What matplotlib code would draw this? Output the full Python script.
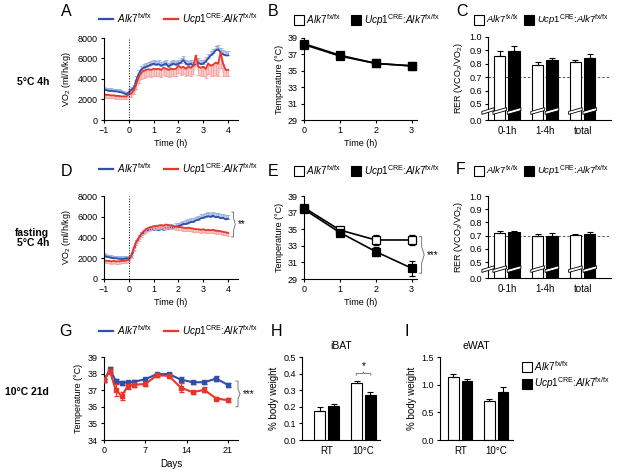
import numpy as np
import matplotlib
matplotlib.use('Agg')
import matplotlib.pyplot as plt
from matplotlib.lines import Line2D
from matplotlib.patches import Polygon
from matplotlib.transforms import blended_transform_factory

plt.rcParams['font.family'] = ['Liberation Sans', 'DejaVu Sans']
plt.rcParams['mathtext.fontset'] = 'custom'
plt.rcParams['mathtext.rm'] = 'Liberation Sans'
plt.rcParams['mathtext.it'] = 'Liberation Sans:italic'
plt.rcParams['mathtext.bf'] = 'Liberation Sans:bold'
plt.rcParams['font.size'] = 6.5
plt.rcParams['axes.linewidth'] = 0.8
for a in ('xtick', 'ytick'):
    plt.rcParams[a + '.major.size'] = 2.5
    plt.rcParams[a + '.major.width'] = 0.8
    plt.rcParams[a + '.major.pad'] = 2
    plt.rcParams[a + '.labelsize'] = 6.5

# ---------- данные ----------
# время (ч) для VO2, шаг 0.1 ч
t_vo2 = np.linspace(-1, 4, 51)

# A: 5°C 4h
vo2_a_wt = np.array([2950, 2900, 2850, 2850, 2800, 2800, 2750, 2700, 2600, 2500,
                     2700, 2950, 3100, 3900, 4500, 4900, 5100, 5200, 5300, 5400,
                     5500, 5400, 5450, 5300, 5400, 5500, 5200, 5400, 5500, 5400,
                     5500, 5600, 5850, 5500, 5400, 5500, 5300, 5400, 5600, 5450,
                     5500, 5700, 6000, 6300, 6500, 6800, 6900, 6600, 6400, 6300,
                     6300])
vo2_a_wt_err = np.array([250, 250, 250, 250, 250, 250, 250, 250, 250, 250,
                         300, 300, 300, 350, 400, 400, 400, 400, 400, 400,
                         400, 400, 400, 400, 400, 400, 400, 400, 400, 400,
                         400, 400, 400, 400, 400, 400, 400, 400, 400, 400,
                         400, 400, 400, 400, 400, 400, 400, 400, 400, 400,
                         400])
vo2_a_ko = np.array([2500, 2450, 2450, 2400, 2400, 2350, 2350, 2300, 2300, 2300,
                     2500, 2600, 2900, 3500, 4200, 4600, 4800, 4900, 4950, 4900,
                     5000, 4950, 5000, 4900, 5100, 5000, 4900, 5000, 4950, 5000,
                     5300, 5100, 5200, 5000, 5200, 5100, 5300, 6300, 5200, 5100,
                     5200, 5000, 5500, 5300, 5400, 5600, 5500, 6600, 5500, 4900,
                     4900])
vo2_a_ko_err = np.array([300, 300, 300, 300, 300, 300, 300, 300, 300, 300,
                         300, 350, 400, 500, 600, 600, 700, 700, 700, 700,
                         700, 700, 700, 700, 700, 700, 700, 700, 700, 700,
                         700, 700, 700, 700, 800, 800, 800, 900, 800, 800,
                         900, 900, 1000, 1000, 1100, 1200, 1200, 1500, 1200, 600,
                         600])

# D: голодание, 5°C 4h
vo2_d_wt = np.array([2250, 2150, 2100, 2050, 2000, 2000, 1950, 1950, 1950, 2000,
                     2000, 2100, 2800, 3500, 3900, 4200, 4450, 4650, 4750, 4800,
                     4750, 4800, 4700, 4850, 4750, 4900, 4850, 5000, 4950, 5050,
                     5100, 5200, 5300, 5300, 5400, 5500, 5500, 5650, 5700, 5850,
                     5900, 6000, 6050, 6000, 6100, 5950, 6000, 5850, 5900, 5750,
                     5800])
vo2_d_wt_err = np.array([250, 250, 250, 250, 250, 250, 250, 250, 250, 250,
                         250, 250, 300, 300, 300, 300, 300, 300, 300, 300,
                         300, 300, 300, 300, 300, 300, 300, 300, 300, 300,
                         300, 300, 300, 350, 350, 350, 350, 350, 400, 400,
                         400, 400, 400, 400, 400, 400, 400, 400, 400, 400,
                         400])
vo2_d_ko = np.array([1800, 1750, 1750, 1700, 1750, 1700, 1700, 1750, 1750, 1800,
                     1850, 2300, 3000, 3600, 4000, 4350, 4600, 4800, 4950, 5000,
                     5100, 5100, 5150, 5200, 5150, 5250, 5200, 5150, 5100, 5050,
                     5000, 5000, 4950, 4900, 4950, 4900, 4850, 4800, 4800, 4750,
                     4800, 4700, 4750, 4700, 4750, 4650, 4650, 4600, 4550, 4500,
                     4450])
vo2_d_ko_err = np.array([250, 250, 250, 250, 250, 250, 250, 250, 250, 250,
                         250, 250, 300, 300, 300, 300, 300, 300, 300, 300,
                         300, 300, 300, 300, 300, 300, 300, 300, 300, 300,
                         300, 300, 300, 300, 300, 300, 300, 300, 300, 300,
                         300, 300, 300, 300, 300, 300, 300, 300, 300, 300,
                         300])

# B, E: температура тела
hours = [0, 1, 2, 3]
temp_b_wt = [38.2, 36.8, 35.9, 35.6]
temp_b_wt_err = [0.2, 0.2, 0.15, 0.15]
temp_b_ko = [38.3, 36.9, 35.9, 35.6]
temp_b_ko_err = [0.2, 0.2, 0.15, 0.15]
temp_e_wt = [37.6, 34.9, 33.7, 33.7]
temp_e_wt_err = [0.3, 0.3, 0.6, 0.6]
temp_e_ko = [37.4, 34.6, 32.3, 30.3]
temp_e_ko_err = [0.3, 0.3, 0.5, 0.9]

# C, F: RER
rer_groups = ['0-1h', '1-4h', 'total']
rer_c_wt = [0.855, 0.79, 0.81]
rer_c_wt_err = [0.04, 0.02, 0.02]
rer_c_ko = [0.895, 0.825, 0.845]
rer_c_ko_err = [0.035, 0.02, 0.025]
rer_f_wt = [0.72, 0.70, 0.705]
rer_f_wt_err = [0.015, 0.015, 0.01]
rer_f_ko = [0.725, 0.70, 0.715]
rer_f_ko_err = [0.012, 0.02, 0.01]

# G: 10°C 21 день
days = [0, 1, 2, 3, 4, 5, 7, 9, 11, 13, 15, 17, 19, 21]
temp_g_wt = [37.6, 38.25, 37.56, 37.44, 37.48, 37.5, 37.66, 37.98, 37.97, 37.64, 37.48, 37.48, 37.7, 37.32]
temp_g_wt_err = [0.1, 0.15, 0.1, 0.1, 0.1, 0.1, 0.08, 0.08, 0.08, 0.15, 0.08, 0.1, 0.15, 0.12]
temp_g_ko = [37.6, 38.15, 37.0, 36.65, 37.24, 37.32, 37.38, 37.9, 37.86, 37.16, 36.88, 37.02, 36.5, 36.4]
temp_g_ko_err = [0.1, 0.15, 0.35, 0.25, 0.15, 0.12, 0.1, 0.08, 0.08, 0.25, 0.1, 0.15, 0.12, 0.12]

# H, I: масса жира
fat_groups = ['RT', '10°C']
ibat_wt = [0.175, 0.345]
ibat_wt_err = [0.022, 0.01]
ibat_ko = [0.205, 0.272]
ibat_ko_err = [0.01, 0.016]
ewat_wt = [1.14, 0.71]
ewat_wt_err = [0.06, 0.04]
ewat_ko = [1.06, 0.87]
ewat_ko_err = [0.05, 0.08]

# ---------- оформление ----------
W, H = 617, 473
BLUE = '#2F4FA8'
RED = '#E8362C'
LBLUE = '#9AAEE0'
LRED = '#F4A7A4'
LAB_WT = r'$\mathit{Alk7}^{\mathrm{fx/fx}}$'
LAB_KO = r'$\mathit{Ucp1}^{\mathrm{CRE}}$:$\mathit{Alk7}^{\mathrm{fx/fx}}$'

fig = plt.figure(figsize=(W / 100, H / 100), dpi=100)


def add_ax(l, t, r, b):
    ax = fig.add_axes([l / W, 1 - b / H, (r - l) / W, (b - t) / H])
    ax.spines[['top', 'right']].set_visible(False)
    return ax


def line_legend(ax, x, y):
    h = [Line2D([], [], color=BLUE, lw=1.6), Line2D([], [], color=RED, lw=1.6)]
    ax.legend(h, [LAB_WT, LAB_KO], loc='center left', bbox_to_anchor=(x / W, 1 - y / H),
              bbox_transform=fig.transFigure, ncol=2, frameon=False, fontsize=7.2,
              handlelength=1.4, handletextpad=0.4, columnspacing=1.2,
              borderpad=0, borderaxespad=0)


def square_legend(ax, x, y, ncol=2, spacing=1.2, fontsize=7.2):
    h = [Line2D([], [], ls='none', marker='s', ms=6.5, mfc='white', mec='k', mew=0.8),
         Line2D([], [], ls='none', marker='s', ms=6.5, mfc='k', mec='k', mew=0.8)]
    ax.legend(h, [LAB_WT, LAB_KO], loc='center left', bbox_to_anchor=(x / W, 1 - y / H),
              bbox_transform=fig.transFigure, ncol=ncol, frameon=False, fontsize=fontsize,
              handlelength=0.7, handletextpad=0.4, columnspacing=spacing,
              borderpad=0, borderaxespad=0, labelspacing=0.3)


def vo2_panel(ax, wt, wt_err, ko, ko_err):
    zeros = np.zeros_like(wt)
    ax.fill_between(t_vo2, wt, wt + wt_err, color=LBLUE, lw=0, alpha=0.6)
    ax.errorbar(t_vo2, wt, yerr=[zeros, wt_err], fmt='none', ecolor=LBLUE,
                elinewidth=0.6, capsize=1.3, capthick=0.6)
    ax.plot(t_vo2, wt, color=BLUE, lw=1.3)
    ax.fill_between(t_vo2, ko - ko_err, ko, color=LRED, lw=0, alpha=0.6)
    ax.errorbar(t_vo2, ko, yerr=[ko_err, zeros], fmt='none', ecolor=LRED,
                elinewidth=0.6, capsize=1.3, capthick=0.6)
    ax.plot(t_vo2, ko, color=RED, lw=1.3)
    ax.axvline(0, color='k', ls=':', lw=0.7)
    ax.set_xlim(-1, 4.4)
    ax.set_ylim(0, 8000)
    ax.set_xticks(range(-1, 5))
    ax.set_yticks(range(0, 8001, 2000))
    ax.set_xlabel('Time (h)', labelpad=3)
    ax.set_ylabel('VO$_2$ (ml/h/kg)', labelpad=3)


def temp_panel(ax, wt, wt_err, ko, ko_err):
    ax.errorbar(hours, wt, yerr=wt_err, color='k', lw=1.2, marker='s', ms=5.5,
                mfc='white', mec='k', mew=0.9, capsize=2.2, elinewidth=0.8,
                clip_on=False, zorder=3)
    ax.errorbar(hours, ko, yerr=ko_err, color='k', lw=1.2, marker='s', ms=5.5,
                mfc='k', mec='k', mew=0.9, capsize=2.2, elinewidth=0.8,
                clip_on=False, zorder=4)
    ax.set_xlim(0, 3.15)
    ax.set_ylim(29, 39)
    ax.set_xticks(hours)
    ax.set_yticks(range(29, 40, 2))
    ax.set_xlabel('Time (h)', labelpad=3)
    ax.set_ylabel('Temperature (°C)', labelpad=3)


def rer_fwd(v):
    v = np.asarray(v, dtype=float)
    return np.where(v < 0.5, v * 0.24, v - 0.38)


def rer_inv(u):
    u = np.asarray(u, dtype=float)
    return np.where(u < 0.12, u / 0.24, u + 0.38)


def break_mark(ax, x0, x1, transform, lw=0.6):
    yc, h, s = 0.28, 0.045, 0.06
    poly = Polygon([(x0, yc - h - s), (x1, yc - h + s), (x1, yc + h + s), (x0, yc + h - s)],
                   closed=True, fc='white', ec='k', lw=lw, transform=transform,
                   clip_on=False, zorder=6)
    ax.add_patch(poly)


def rer_panel(ax, wt, wt_err, ko, ko_err):
    ax.set_yscale('function', functions=(rer_fwd, rer_inv))
    x = np.arange(len(rer_groups))
    w, off = 0.3, 0.19
    ax.bar(x - off, wt, w, yerr=[np.zeros(3), wt_err], color='white', edgecolor='k',
           lw=0.8, capsize=2.2, error_kw=dict(elinewidth=0.8, capthick=0.8))
    ax.bar(x + off, ko, w, yerr=[np.zeros(3), ko_err], color='k', edgecolor='k',
           lw=0.8, capsize=2.2, error_kw=dict(elinewidth=0.8, capthick=0.8))
    ax.axhline(0.7, color='#555555', ls=(0, (2.5, 2)), lw=0.7, zorder=0.5)
    for xc in x:
        break_mark(ax, xc - off - w / 2 - 0.03, xc - off + w / 2 + 0.03, ax.transData)
        break_mark(ax, xc + off - w / 2 - 0.03, xc + off + w / 2 + 0.03, ax.transData)
    break_mark(ax, -0.05, 0.05, blended_transform_factory(ax.transAxes, ax.transData))
    ax.set_xlim(-0.5, 2.75)
    ax.set_ylim(0, 1.0)
    ax.set_yticks([0, 0.5, 0.6, 0.7, 0.8, 0.9, 1.0])
    ax.set_yticklabels(['0.0', '0.5', '0.6', '0.7', '0.8', '0.9', '1.0'])
    ax.set_xticks(x)
    ax.set_xticklabels(rer_groups, fontsize=7)
    ax.tick_params(axis='x', length=0, pad=4)
    ax.set_ylabel('RER (VCO$_2$/VO$_2$)', labelpad=3)


def fat_panel(ax, wt, wt_err, ko, ko_err, title, xlim):
    x = np.arange(len(fat_groups))
    w, off = 0.3, 0.19
    ax.bar(x - off, wt, w, yerr=[np.zeros(2), wt_err], color='white', edgecolor='k',
           lw=0.8, capsize=2.2, error_kw=dict(elinewidth=0.8, capthick=0.8))
    ax.bar(x + off, ko, w, yerr=[np.zeros(2), ko_err], color='k', edgecolor='k',
           lw=0.8, capsize=2.2, error_kw=dict(elinewidth=0.8, capthick=0.8))
    ax.set_xlim(*xlim)
    ax.set_xticks(x)
    ax.set_xticklabels(fat_groups, fontsize=7)
    ax.tick_params(axis='x', length=0, pad=4)
    ax.set_title(title, fontsize=7.5, pad=6)
    ax.set_ylabel('% body weight', fontsize=7, labelpad=3)


def bracket(ax, x, y0, y1, dx, dy_mid, text):
    ym = (y0 + y1) / 2
    ax.plot([x - dx, x, x, x + dx, x, x, x - dx], [y1, y1, ym + dy_mid, ym, ym - dy_mid, y0, y0],
            color='#666666', lw=0.6, clip_on=False)
    ax.text(x + 2.2 * dx, ym, text, ha='left', va='center', fontsize=7)


# ---------- строка 1 ----------
ax_a = add_ax(104, 38, 238, 120)
vo2_panel(ax_a, vo2_a_wt, vo2_a_wt_err, vo2_a_ko, vo2_a_ko_err)
line_legend(ax_a, 99, 19)

ax_b = add_ax(304, 38, 417, 120)
temp_panel(ax_b, temp_b_wt, temp_b_wt_err, temp_b_ko, temp_b_ko_err)
square_legend(ax_b, 295, 20)

ax_c = add_ax(488, 37, 611, 120)
rer_panel(ax_c, rer_c_wt, rer_c_wt_err, rer_c_ko, rer_c_ko_err)
square_legend(ax_c, 476, 20, spacing=0.7, fontsize=6.8)

# ---------- строка 2 ----------
ax_d = add_ax(104, 196, 238, 279)
vo2_panel(ax_d, vo2_d_wt, vo2_d_wt_err, vo2_d_ko, vo2_d_ko_err)
line_legend(ax_d, 99, 169)
bracket(ax_d, 4.22, 4050, 6450, 0.07, 600, '**')

ax_e = add_ax(304, 196, 417, 279)
temp_panel(ax_e, temp_e_wt, temp_e_wt_err, temp_e_ko, temp_e_ko_err)
square_legend(ax_e, 295, 171)
bracket(ax_e, 3.28, 29.7, 34.1, 0.07, 1.0, '***')

ax_f = add_ax(488, 196, 611, 278)
rer_panel(ax_f, rer_f_wt, rer_f_wt_err, rer_f_ko, rer_f_ko_err)
square_legend(ax_f, 476, 171, spacing=0.7, fontsize=6.8)

# ---------- строка 3 ----------
ax_g = add_ax(104, 357, 238, 440)
ax_g.errorbar(days, temp_g_wt, yerr=temp_g_wt_err, color=BLUE, lw=1.5, marker='s', ms=3,
              capsize=1.8, elinewidth=0.8, zorder=3)
ax_g.errorbar(days, temp_g_ko, yerr=temp_g_ko_err, color=RED, lw=1.5, marker='s', ms=3,
              capsize=1.8, elinewidth=0.8, zorder=4)
ax_g.set_xlim(0, 22.7)
ax_g.set_ylim(34, 39)
ax_g.set_xticks([0, 7, 14, 21])
ax_g.set_yticks(range(34, 40))
ax_g.set_xlabel('Days', fontsize=7, labelpad=3)
ax_g.set_ylabel('Temperature (°C)', labelpad=3)
line_legend(ax_g, 99, 331)
bracket(ax_g, 22.7, 36.0, 37.55, 0.35, 0.3, '***')

ax_h = add_ax(302, 357, 380, 440)
fat_panel(ax_h, ibat_wt, ibat_wt_err, ibat_ko, ibat_ko_err, 'iBAT', (-0.68, 1.45))
ax_h.set_ylim(0, 0.5)
ax_h.set_yticks(np.arange(0, 0.51, 0.1))
ax_h.set_yticklabels(['0.0', '0.1', '0.2', '0.3', '0.4', '0.5'])
ax_h.plot([0.8, 0.8, 0.98, 1.0, 1.02, 1.2, 1.2], [0.39, 0.40, 0.40, 0.41, 0.40, 0.40, 0.39],
          color='#666666', lw=0.6, clip_on=False)
ax_h.text(1.0, 0.415, '*', ha='center', va='bottom', fontsize=7)

ax_i = add_ax(440, 357, 513, 440)
fat_panel(ax_i, ewat_wt, ewat_wt_err, ewat_ko, ewat_ko_err, 'eWAT', (-0.56, 1.47))
ax_i.set_ylim(0, 1.5)
ax_i.set_yticks([0, 0.5, 1.0, 1.5])
ax_i.set_yticklabels(['0.0', '0.5', '1.0', '1.5'])
square_legend(ax_i, 523, 375, ncol=1)

# ---------- подписи ----------
for letter, x, y in [('A', 66, 12), ('B', 273, 12), ('C', 462, 12),
                     ('D', 66, 171), ('E', 273, 171), ('F', 461, 169),
                     ('G', 65, 332), ('H', 277, 332), ('I', 407, 332)]:
    fig.text(x / W, 1 - y / H, letter, fontsize=11.5, ha='center', va='center')

for label, y in [('5°C 4h', 82), ('fasting\n5°C 4h', 238), ('10°C 21d', 392)]:
    fig.text(49 / W, 1 - y / H, label, fontsize=7.5, fontweight='bold', ha='right',
             va='center', multialignment='right', linespacing=1.1)

fig.savefig('out.png', dpi=100)
